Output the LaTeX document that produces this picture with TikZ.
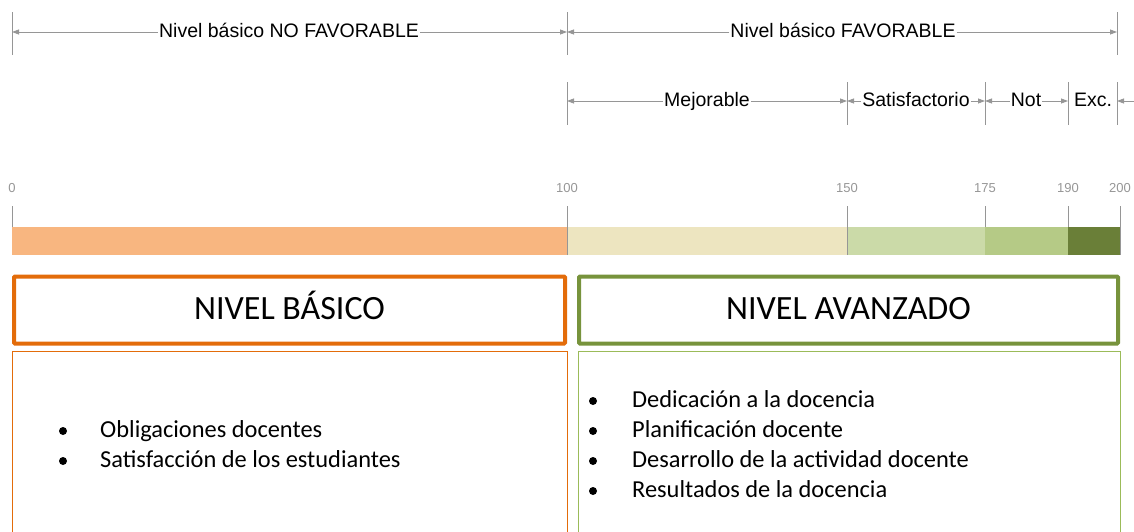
\documentclass[tikz,border=0pt]{standalone}
\usepackage{fontspec}
\setmainfont{Carlito}
\newfontfamily\arialfont{Liberation Sans}
\usetikzlibrary{arrows.meta}

\definecolor{barorange}{RGB}{248,182,128}
\definecolor{barcream}{RGB}{237,229,192}
\definecolor{barlgreen}{RGB}{203,218,168}
\definecolor{barmgreen}{RGB}{181,202,134}
\definecolor{bardgreen}{RGB}{106,127,56}
\definecolor{basicorange}{RGB}{227,108,10}
\definecolor{advgreen}{RGB}{119,147,60}
\definecolor{advlight}{RGB}{155,187,89}
\definecolor{guidegray}{RGB}{150,150,150}

\begin{document}
\begin{tikzpicture}[x=1pt,y=-1pt,
    guide/.style = {draw=guidegray, line width=0.8pt},
    dimarrow/.style = {draw=guidegray, line width=0.8pt,
                       -{Triangle[length=7pt,width=5pt]}},
    dimlabel/.style = {fill=white, inner sep=1pt,
                       text height=14pt, text depth=4pt,
                       font=\arialfont\fontsize{19.5}{22}\selectfont},
    scalelabel/.style = {text=guidegray, inner sep=0pt,
                         font=\arialfont\fontsize{13}{15}\selectfont},
    titlebox/.style = {draw, line width=4pt, rounded corners=1pt,
                       minimum height=67pt, inner sep=0pt,
                       text height=22pt, text depth=4pt,
                       font=\fontsize{34}{38}\selectfont},
    dot/.style = {circle, fill=black, inner sep=0pt, minimum size=8pt},
    itemtext/.style = {anchor=west, inner sep=0pt,
                       text height=16pt, text depth=4pt,
                       font=\fontsize{24.4}{28}\selectfont}]
  \useasboundingbox (0,0) rectangle (1134,531);

  % dimension guides
  \foreach \xp in {12,567,1117}
    \draw[guide] (\xp,12) -- (\xp,55);
  \foreach \xp in {567,847,985,1068,1117}
    \draw[guide] (\xp,82) -- (\xp,125);

  \coordinate (a0) at (12,32);
  \coordinate (a100) at (567,32);
  \coordinate (a200) at (1117,32);
  \coordinate (b100) at (567,101);
  \coordinate (b150) at (847,101);
  \coordinate (b175) at (985,101);
  \coordinate (b190) at (1068,101);
  \coordinate (b200) at (1117,101);
  \coordinate (bend) at (1134,101);

  \node[dimlabel] (nofav) at (289,32) {Nivel básico NO FAVORABLE};
  \node[dimlabel] (fav) at (843,32) {Nivel básico FAVORABLE};
  \node[dimlabel] (mejor) at (707,101) {Mejorable};
  \node[dimlabel] (satis) at (916,101) {Satisfactorio};
  \node[dimlabel] (notab) at (1026,101) {Not};
  \node[dimlabel] (exc) at (1093,101) {Exc.};

  \draw[dimarrow] (nofav) -- (a0);
  \draw[dimarrow] (nofav) -- (a100);
  \draw[dimarrow] (fav) -- (a100);
  \draw[dimarrow] (fav) -- (a200);
  \draw[dimarrow] (mejor) -- (b100);
  \draw[dimarrow] (mejor) -- (b150);
  \draw[dimarrow] (satis) -- (b150);
  \draw[dimarrow] (satis) -- (b175);
  \draw[dimarrow] (notab) -- (b175);
  \draw[dimarrow] (notab) -- (b190);
  \draw[dimarrow] (bend) -- (b200);

  % scale
  \foreach \val/\xp in {0/12,100/567,150/847,175/985,190/1068,200/1120}{
    \node[scalelabel] (lab\val) at (\xp,188) {\val};
    \draw[guide, line width=0.6pt] (\xp,206) -- (\xp,255);
  }
  \fill[barorange] (12,227) rectangle (567,255);
  \fill[barcream] (567,227) rectangle (847,255);
  \fill[barlgreen] (847,227) rectangle (985,255);
  \fill[barmgreen] (985,227) rectangle (1068,255);
  \fill[bardgreen] (1068,227) rectangle (1120,255);
  \foreach \xp in {567,847}
    \draw[guide, line width=0.6pt] (\xp,227) -- (\xp,255);

  % level boxes
  \node[titlebox, draw=basicorange, minimum width=551pt]
    (basico) at (289.5,310) {NIVEL BÁSICO};
  \node[titlebox, draw=advgreen, minimum width=539pt]
    (avanzado) at (848.5,310) {NIVEL AVANZADO};
  \draw[basicorange, line width=0.8pt] (12,545) -- (12,351) -- (567,351) -- (567,545);
  \draw[advlight, line width=0.8pt] (578,545) -- (578,351) -- (1120,351) -- (1120,545);

  \foreach \txt [count=\i] in {Obligaciones docentes,
                               Satisfacción de los estudiantes}{
    \node[dot] (bdot\i) at (63,{401+30*\i}) {};
    \node[itemtext] (bitem\i) at (100,{401+30*\i}) {\txt};
  }
  \foreach \txt [count=\i] in {Dedicación a la docencia,
                               Planificación docente,
                               Desarrollo de la actividad docente,
                               Resultados de la docencia}{
    \node[dot] (adot\i) at (593,{371+30*\i}) {};
    \node[itemtext] (aitem\i) at (632,{371+30*\i}) {\txt};
  }
\end{tikzpicture}
\end{document}
